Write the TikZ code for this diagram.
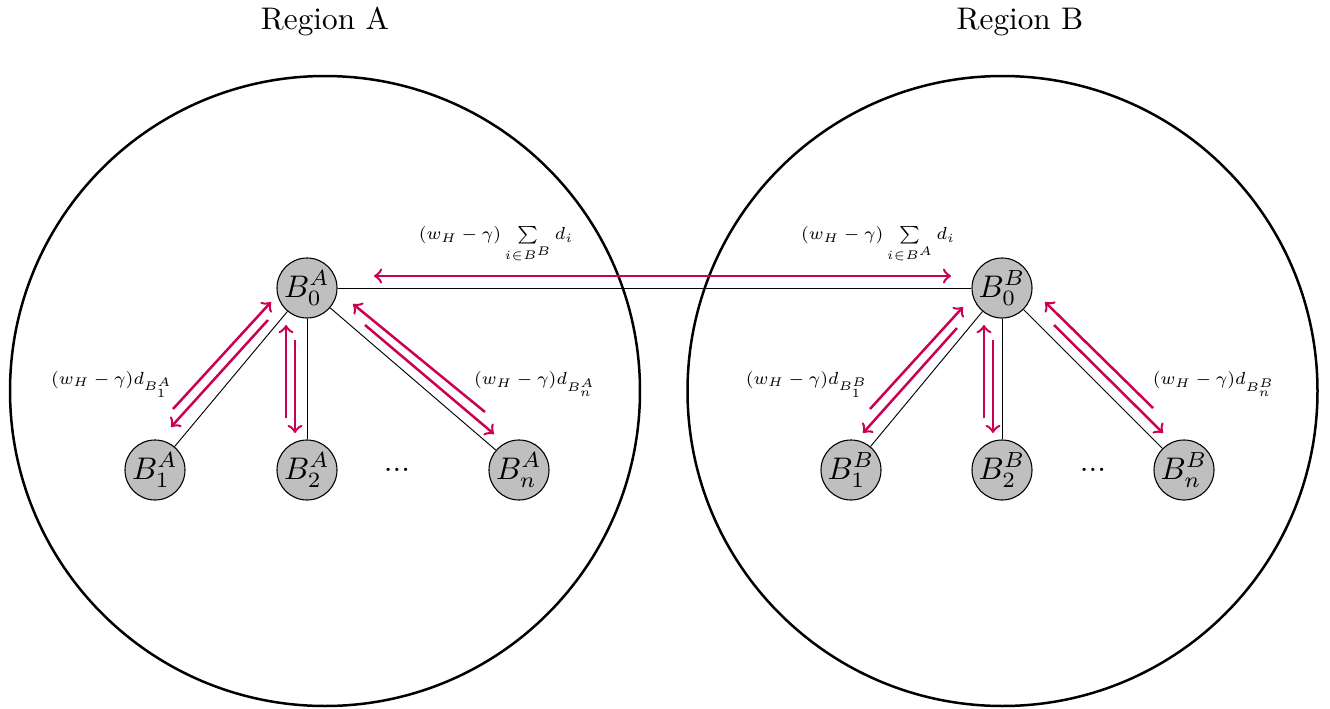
\documentclass[tikz,border=0pt]{standalone}
\usepackage{amsmath}
\usetikzlibrary{calc}
\definecolor{arrred}{RGB}{204,0,82}
\tikzset{
  region/.style={draw=black, line width=0.8pt},
  bnode/.style={circle, draw=black, line width=0.35pt, fill=black!25, minimum size=19.2pt, inner sep=0pt},
  link/.style={draw=black, line width=0.3pt},
  flow/.style={draw=arrred, line width=0.8pt, ->},
  flowboth/.style={draw=arrred, line width=0.8pt, <->},
  elabel/.style={font=\scriptsize, inner sep=0pt, scale=0.8, transform shape},
  title/.style={font=\normalsize, inner sep=0pt}
}
\begin{document}
\begin{tikzpicture}[x=0.32pt, y=-0.32pt]
\useasboundingbox (0,0) rectangle (1330,708);
% regions
\node[title] (ta) at (325,22) {Region A};
\node[title] (tb) at (1020,22) {Region B};
\node[region, circle, minimum size=201.6pt, inner sep=0pt] (ca) at (325,391) {};
\node[region, circle, minimum size=201.6pt, inner sep=0pt] (cb) at (1002.5,391) {};
% nodes A
\node[bnode] (a0) at (307,288) {$B_0^A$};
\node[bnode] (a1) at (155,470) {$B_1^A$};
\node[bnode] (a2) at (307,470) {$B_2^A$};
\node[bnode] (an) at (519,470) {$B_n^A$};
\node[inner sep=0pt] (adots) at (397,470) {...};
% nodes B
\node[bnode] (b0) at (1002,288) {$B_0^B$};
\node[bnode] (b1) at (851,470) {$B_1^B$};
\node[bnode] (b2) at (1002,470) {$B_2^B$};
\node[bnode] (bn) at (1184,470) {$B_n^B$};
\node[inner sep=0pt] (bdots) at (1093,470) {...};
% black links
\draw[link] (a0) -- (a1);
\draw[link] (a0) -- (a2);
\draw[link] (a0) -- (an);
\draw[link] (b0) -- (b1);
\draw[link] (b0) -- (b2);
\draw[link] (b0) -- (bn);
\draw[link] (a0) -- (b0);
% red flows A
\draw[flow] ($(a1)+(18,-61)$) -- ($(a0)+(-36,14)$);
\draw[flow] ($(a0)+(-39,32)$) -- ($(a1)+(16,-43)$);
\draw[flow] ($(a2)+(-21,-52)$) -- ($(a0)+(-21,37)$);
\draw[flow] ($(a0)+(-12,52)$) -- ($(a2)+(-12,-37)$);
\draw[flow] ($(an)+(-34,-58)$) -- ($(a0)+(46,16)$);
\draw[flow] ($(a0)+(58,37)$) -- ($(an)+(-25,-36)$);
% red flows B
\draw[flow] ($(b1)+(19,-61)$) -- ($(b0)+(-39,19)$);
\draw[flow] ($(b0)+(-45,40)$) -- ($(b1)+(12,-37)$);
\draw[flow] ($(b2)+(-18,-52)$) -- ($(b0)+(-18,37)$);
\draw[flow] ($(b0)+(-9,52)$) -- ($(b2)+(-9,-37)$);
\draw[flow] ($(bn)+(-31,-62)$) -- ($(b0)+(43,14)$);
\draw[flow] ($(b0)+(52,37)$) -- ($(bn)+(-21,-37)$);
% inter-region flow
\draw[flowboth] ($(a0)+(67,-12)$) -- ($(b0)+(-51,-12)$);
% labels
\node[elabel] (la1) at (112,384) {$(w_H-\gamma)d_{B_1^A}$};
\node[elabel] (lan) at (535,384) {$(w_H-\gamma)d_{B_n^A}$};
\node[elabel] (lb1) at (807,384) {$(w_H-\gamma)d_{B_1^B}$};
\node[elabel] (lbn) at (1214,384) {$(w_H-\gamma)d_{B_n^B}$};
\node[elabel] (lab) at (496,245) {$(w_H-\gamma)\sum\limits_{i\in B^B} d_i$};
\node[elabel] (lba) at (878,245) {$(w_H-\gamma)\sum\limits_{i\in B^A} d_i$};
\end{tikzpicture}
\end{document}
